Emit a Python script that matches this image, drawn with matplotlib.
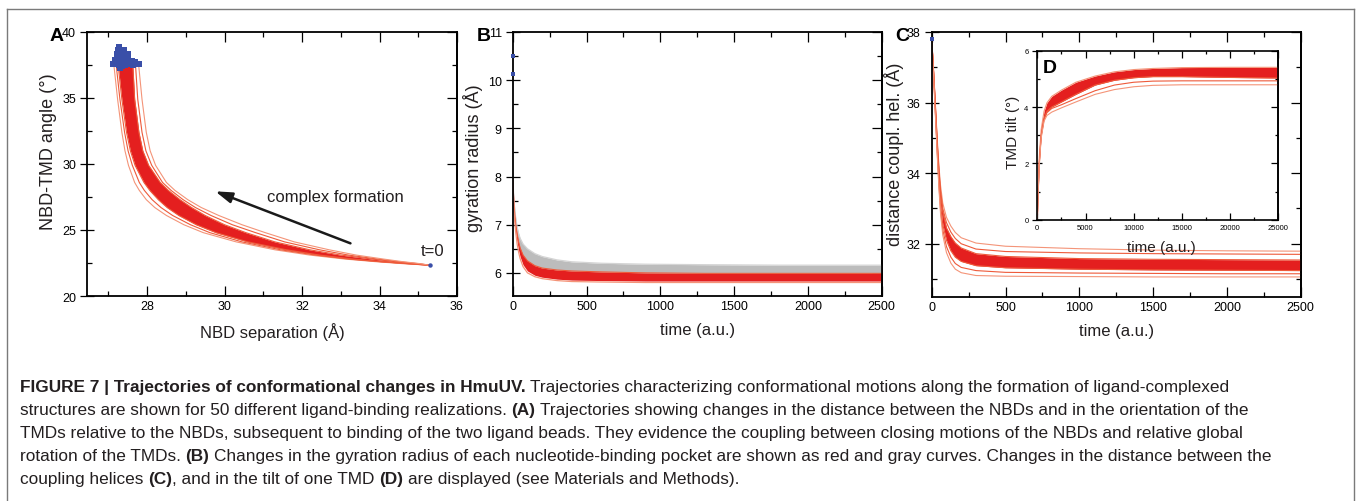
import matplotlib
matplotlib.use('Agg')
import matplotlib.pyplot as plt
from matplotlib.lines import Line2D
from matplotlib.ticker import MultipleLocator
from matplotlib import font_manager

# ---- panel A : NBD separation vs NBD-TMD angle (x read on a common y grid)
a_y = [22.33, 22.45, 22.6, 22.8, 23.1, 23.5, 24.1, 24.8, 25.4, 26.1, 26.7,
       27.3, 28.0, 28.6, 29.9, 31.0, 32.4, 34.9, 37.6]
a_x_left = [35.3, 34.6, 33.9, 33.1, 32.2, 31.3, 30.3, 29.45, 28.95, 28.5, 28.2,
            27.98, 27.8, 27.68, 27.52, 27.43, 27.35, 27.24, 27.14]
a_x_left2 = [35.3, 34.7, 34.0, 33.2, 32.35, 31.45, 30.45, 29.62, 29.12, 28.66, 28.36,
             28.13, 27.93, 27.8, 27.62, 27.51, 27.42, 27.3, 27.2]
a_x_core_l = [35.3, 34.75, 34.05, 33.3, 32.45, 31.6, 30.6, 29.78, 29.27, 28.82, 28.52,
              28.29, 28.07, 27.92, 27.69, 27.57, 27.47, 27.35, 27.25]
a_x_core_r = [35.3, 34.95, 34.4, 33.8, 33.0, 32.2, 31.3, 30.55, 30.0, 29.5, 29.15,
              28.85, 28.55, 28.34, 28.04, 27.89, 27.79, 27.68, 27.63]
a_x_right2 = [35.3, 35.0, 34.5, 33.95, 33.2, 32.45, 31.55, 30.8, 30.2, 29.65, 29.25,
              28.93, 28.62, 28.4, 28.12, 27.97, 27.87, 27.76, 27.7]
a_x_right = [35.3, 35.05, 34.6, 34.1, 33.4, 32.7, 31.8, 31.05, 30.45, 29.85, 29.4,
             29.05, 28.72, 28.5, 28.22, 28.08, 27.98, 27.87, 27.78]
a_end_x = [27.12, 27.18, 27.22, 27.25, 27.28, 27.3, 27.32, 27.35, 27.38, 27.4,
           27.42, 27.45, 27.48, 27.5, 27.52, 27.55, 27.6, 27.65, 27.7, 27.78,
           27.27, 27.33, 27.37, 27.43, 27.47, 27.31, 27.36, 27.41]
a_end_y = [37.6, 37.9, 38.3, 38.6, 38.9, 38.1, 37.7, 38.4, 37.9, 38.2,
           37.5, 38.0, 37.7, 38.3, 37.9, 37.6, 37.8, 37.5, 37.7, 37.6,
           37.5, 38.5, 38.0, 37.8, 38.1, 37.3, 37.4, 38.6]
a_start = (35.3, 22.33)

# ---- panel B : gyration radius vs time
t_b = [0, 10, 20, 30, 40, 50, 70, 100, 150, 200, 300, 400, 600, 900, 1300, 1800, 2500]
b_gray_hi = [7.95, 7.45, 7.15, 6.95, 6.82, 6.72, 6.6, 6.5, 6.4, 6.34, 6.27, 6.23,
             6.2, 6.18, 6.17, 6.16, 6.16]
b_red_hi = [7.95, 7.35, 7.02, 6.8, 6.64, 6.52, 6.37, 6.25, 6.15, 6.1, 6.06, 6.04,
            6.02, 6.0, 5.99, 5.99, 5.99]
b_red_lo = [7.9, 7.22, 6.88, 6.64, 6.47, 6.34, 6.17, 6.04, 5.95, 5.91, 5.87, 5.85,
            5.84, 5.83, 5.83, 5.83, 5.83]
b_red_edge = [7.9, 7.2, 6.85, 6.6, 6.43, 6.3, 6.13, 6.0, 5.92, 5.88, 5.84, 5.82,
              5.81, 5.8, 5.8, 5.8, 5.8]
b_start = [10.5, 10.12]

# ---- panel C : distance between coupling helices vs time
t_c = [0, 10, 20, 30, 40, 50, 60, 75, 100, 130, 160, 200, 300, 500, 1000, 1500, 2000, 2500]
c_top = [37.8, 37.1, 36.35, 35.55, 34.8, 34.15, 33.65, 33.15, 32.75, 32.5, 32.32,
         32.17, 32.02, 31.93, 31.86, 31.82, 31.8, 31.79]
c_upper = [37.8, 37.1, 36.3, 35.5, 34.7, 34.05, 33.5, 33.0, 32.6, 32.33, 32.15,
           32.0, 31.85, 31.78, 31.74, 31.72, 31.71, 31.7]
c_core_hi = [37.8, 37.1, 36.3, 35.45, 34.65, 33.95, 33.4, 32.9, 32.45, 32.2, 32.02,
             31.88, 31.72, 31.64, 31.58, 31.56, 31.55, 31.54]
c_core_lo = [37.8, 37.05, 36.2, 35.3, 34.45, 33.7, 33.1, 32.55, 32.1, 31.8, 31.62,
             31.5, 31.38, 31.32, 31.28, 31.26, 31.25, 31.24]
c_lower = [37.8, 37.0, 36.15, 35.25, 34.38, 33.6, 32.95, 32.4, 31.92, 31.62, 31.44,
           31.33, 31.24, 31.19, 31.17, 31.16, 31.15, 31.15]
c_bottom = [37.8, 37.0, 36.1, 35.2, 34.3, 33.5, 32.85, 32.25, 31.75, 31.45, 31.28,
            31.18, 31.1, 31.08, 31.07, 31.06, 31.06, 31.06]
c_start = 37.8

# ---- panel D (inset) : TMD tilt vs time
t_d = [0, 100, 200, 400, 700, 1000, 1500, 2500, 4000, 6000, 8000, 10000, 12000,
       15000, 20000, 25000]
d_hi = [0, 1.3, 2.2, 3.2, 3.85, 4.15, 4.38, 4.6, 4.88, 5.1, 5.25, 5.33, 5.37,
        5.4, 5.41, 5.41]
d_lo = [0, 1.1, 2.0, 3.0, 3.6, 3.85, 4.0, 4.18, 4.45, 4.78, 4.95, 5.04, 5.08,
        5.08, 5.05, 5.03]
d_low2 = [0, 1.05, 1.95, 2.95, 3.55, 3.8, 3.95, 4.08, 4.3, 4.58, 4.78, 4.88, 4.92,
          4.93, 4.93, 4.93]
d_min = [0, 1.0, 1.9, 2.9, 3.5, 3.7, 3.82, 3.97, 4.18, 4.45, 4.62, 4.72, 4.77,
         4.79, 4.79, 4.79]

caption = [
    [("FIGURE 7 | Trajectories of conformational changes in HmuUV.", True, False),
     ("Trajectories characterizing conformational motions along the formation of ligand-complexed", False, True)],
    [("structures are shown for 50 different ligand-binding realizations.", False, False),
     ("(A)", True, True),
     ("Trajectories showing changes in the distance between the NBDs and in the orientation of the", False, True)],
    [("TMDs relative to the NBDs, subsequent to binding of the two ligand beads. They evidence the coupling between closing motions of the NBDs and relative global", False, False)],
    [("rotation of the TMDs.", False, False), ("(B)", True, True),
     ("Changes in the gyration radius of each nucleotide-binding pocket are shown as red and gray curves. Changes in the distance between the", False, True)],
    [("coupling helices", False, False), ("(C)", True, True),
     (", and in the tilt of one TMD", False, False), ("(D)", True, True),
     ("are displayed (see Materials and Methods).", False, True)],
]
caption_baselines = [392, 415, 438, 461, 484]

W, H = 1358, 502
plt.rcParams['font.family'] = ['Liberation Sans', 'DejaVu Sans']
RED = '#e41f1f'
RED_LINE = '#ee5a3a'
RED_LIGHT = '#f49478'
BLUE = '#3a4fa8'
INK = '#231f20'

fig = plt.figure(figsize=(W / 100, H / 100), dpi=100)


def box(x0, x1, y0, y1):
    return fig.add_axes([x0 / W, 1 - y1 / H, (x1 - x0) / W, (y1 - y0) / H])


def style(ax, xmaj, xmin, ymaj, ymin, fs=9, L=7.5, lw=1.3):
    ax.xaxis.set_major_locator(MultipleLocator(xmaj))
    ax.xaxis.set_minor_locator(MultipleLocator(xmin))
    ax.yaxis.set_major_locator(MultipleLocator(ymaj))
    ax.yaxis.set_minor_locator(MultipleLocator(ymin))
    ax.tick_params(which='major', direction='in', length=L, width=0.9,
                   top=True, right=False, labelsize=fs, pad=3, colors='black')
    ax.tick_params(which='minor', direction='in', length=L * 0.5, width=0.9,
                   top=True, right=False)
    ax.tick_params(axis='y', which='major', direction='inout', length=L * 1.3)
    for s in ax.spines.values():
        s.set_linewidth(lw)
    sec = ax.secondary_yaxis('right')
    sec.yaxis.set_major_locator(MultipleLocator(ymaj))
    sec.yaxis.set_minor_locator(MultipleLocator(ymin))
    sec.tick_params(which='major', direction='in', length=L, width=0.9, labelright=False)
    sec.tick_params(which='minor', direction='in', length=L * 0.5, width=0.9)
    sec.spines['right'].set_linewidth(lw)


# ---- A
axA = box(87, 457, 33, 297)
axA.fill_betweenx(a_y, a_x_core_l, a_x_core_r, color=RED, lw=0)
for xs, c in [(a_x_left, RED_LIGHT), (a_x_left2, RED_LINE), (a_x_core_l, RED_LINE),
              (a_x_core_r, RED_LINE), (a_x_right2, RED_LINE), (a_x_right, RED_LIGHT)]:
    axA.plot(xs, a_y, color=c, lw=0.8)
axA.plot(a_end_x, a_end_y, 's', color=BLUE, ms=3.8, mew=0, zorder=5)
axA.plot(*a_start, 'o', color=BLUE, ms=3.2, mew=0, zorder=5)
axA.set_xlim(26.45, 36)
axA.set_ylim(20, 40)
style(axA, 2, 1, 5, 2.5)
axA.annotate('', xy=(29.76, 27.93), xytext=(33.25, 23.99),
             arrowprops=dict(arrowstyle='-|>,head_length=1.0,head_width=0.32',
                             color='#1a1a1a', lw=1.8, shrinkA=0, shrinkB=0))
axA.text(31.1, 27.5, 'complex formation', fontsize=12, va='center', ha='left', color=INK)
axA.text(35.37, 23.45, 't=0', fontsize=12, va='center', ha='center', color=INK)
axA.set_xlabel('NBD separation (Å)', fontsize=12, color=INK)
axA.set_ylabel('NBD-TMD angle (°)', fontsize=13, color=INK)
axA.xaxis.set_label_coords(0.5, -0.098)
axA.yaxis.set_label_coords(-0.081, 0.55)

# ---- B
axB = box(512.7, 881.7, 33, 297)
axB.fill_between(t_b, b_red_hi, b_gray_hi, color='#bcbcbc', lw=0)
axB.plot(t_b, b_gray_hi, color='#d4d4d4', lw=0.9)
axB.fill_between(t_b, b_red_lo, b_red_hi, color=RED, lw=0)
axB.plot(t_b, b_red_hi, color=RED_LINE, lw=0.8)
axB.plot(t_b, b_red_edge, color=RED_LIGHT, lw=0.9)
axB.plot([0] * len(b_start), b_start, 's', color=BLUE, ms=2.5, mew=0, clip_on=False, zorder=5)
axB.set_xlim(0, 2500)
axB.set_ylim(5.52, 11)
style(axB, 500, 250, 1, 0.5)
axB.set_xlabel('time (a.u.)', fontsize=12, color=INK)
axB.set_ylabel('gyration radius (Å)', fontsize=13, color=INK)
axB.xaxis.set_label_coords(0.5, -0.098)
axB.yaxis.set_label_coords(-0.08, 0.526)

# ---- C
axC = box(931.7, 1300.7, 33, 297.7)
axC.fill_between(t_c, c_core_lo, c_core_hi, color=RED, lw=0)
for ys, c in [(c_top, RED_LIGHT), (c_upper, RED_LINE), (c_core_hi, RED_LINE),
              (c_core_lo, RED_LINE), (c_lower, RED_LINE), (c_bottom, RED_LIGHT)]:
    axC.plot(t_c, ys, color=c, lw=0.8)
axC.plot([0], [c_start], 's', color=BLUE, ms=2.5, mew=0, clip_on=False, zorder=5)
axC.set_xlim(0, 2500)
axC.set_ylim(30.5, 38)
style(axC, 500, 250, 2, 1)
axC.set_xlabel('time (a.u.)', fontsize=12, color=INK)
axC.set_ylabel('distance coupl. hel. (Å)', fontsize=13, color=INK)
axC.xaxis.set_label_coords(0.5, -0.098)
axC.yaxis.set_label_coords(-0.075, 0.54)

# ---- D inset
axD = box(1037.3, 1278.3, 51.7, 220.7)
axD.set_facecolor('white')
axD.fill_between(t_d, d_lo, d_hi, color=RED, lw=0)
for ys, c in [(d_hi, RED_LIGHT), (d_lo, RED_LINE), (d_low2, RED_LINE), (d_min, RED_LIGHT)]:
    axD.plot(t_d, ys, color=c, lw=0.8)
axD.set_xlim(0, 25000)
axD.set_ylim(0, 6)
style(axD, 5000, 2500, 2, 1, fs=5.5, L=5, lw=1.2)
axD.set_xlabel('time (a.u.)', fontsize=11, color=INK)
axD.set_ylabel('TMD tilt (°)', fontsize=11, color=INK)
axD.xaxis.set_label_coords(0.516, -0.118)
axD.yaxis.set_label_coords(-0.072, 0.52)
axD.text(0.024, 0.95, 'D', transform=axD.transAxes, fontsize=14, fontweight='bold',
         va='top', ha='left', color='black')

# panel letters
for x, lab in [(50, 'A'), (476.7, 'B'), (895, 'C')]:
    fig.text(x / W, 1 - 28 / H, lab, fontsize=14, fontweight='bold', va='top', ha='left')

# frame around figure
for xs, ys in [((7, 1354), (10, 10)), ((7, 7), (10, 502)), ((1354, 1354), (10, 502))]:
    fig.add_artist(Line2D([x / W for x in xs], [1 - y / H for y in ys], color='#7a7a7a', lw=1.0))

# caption
names = {f.name for f in font_manager.fontManager.ttflist}
cap_family = ['Liberation Sans Narrow', 'Liberation Sans'] if 'Liberation Sans Narrow' in names else ['Liberation Sans']
renderer = fig.canvas.get_renderer()


def width(s, fs, bold):
    t = fig.text(0, 0, s, fontsize=fs, fontweight='bold' if bold else 'normal', family=cap_family)
    w = t.get_window_extent(renderer).width
    t.remove()
    return w


def line_width(segs, fs):
    sp = width('a a', fs, False) - width('aa', fs, False)
    return sum(width(s, fs, b) + (sp if g else 0) for s, b, g in segs)


fs0 = 10
cap_fs = fs0 * 1213 / line_width(caption[0], fs0)
space = width('a a', cap_fs, False) - width('aa', cap_fs, False)
for segs, yb in zip(caption, caption_baselines):
    x = 20
    for s, b, g in segs:
        if g:
            x += space
        t = fig.text(x / W, 1 - yb / H, s, fontsize=cap_fs, fontweight='bold' if b else 'normal',
                     family=cap_family, va='baseline', ha='left', color=INK)
        x += t.get_window_extent(renderer).width

fig.savefig('out.png', dpi=100)
